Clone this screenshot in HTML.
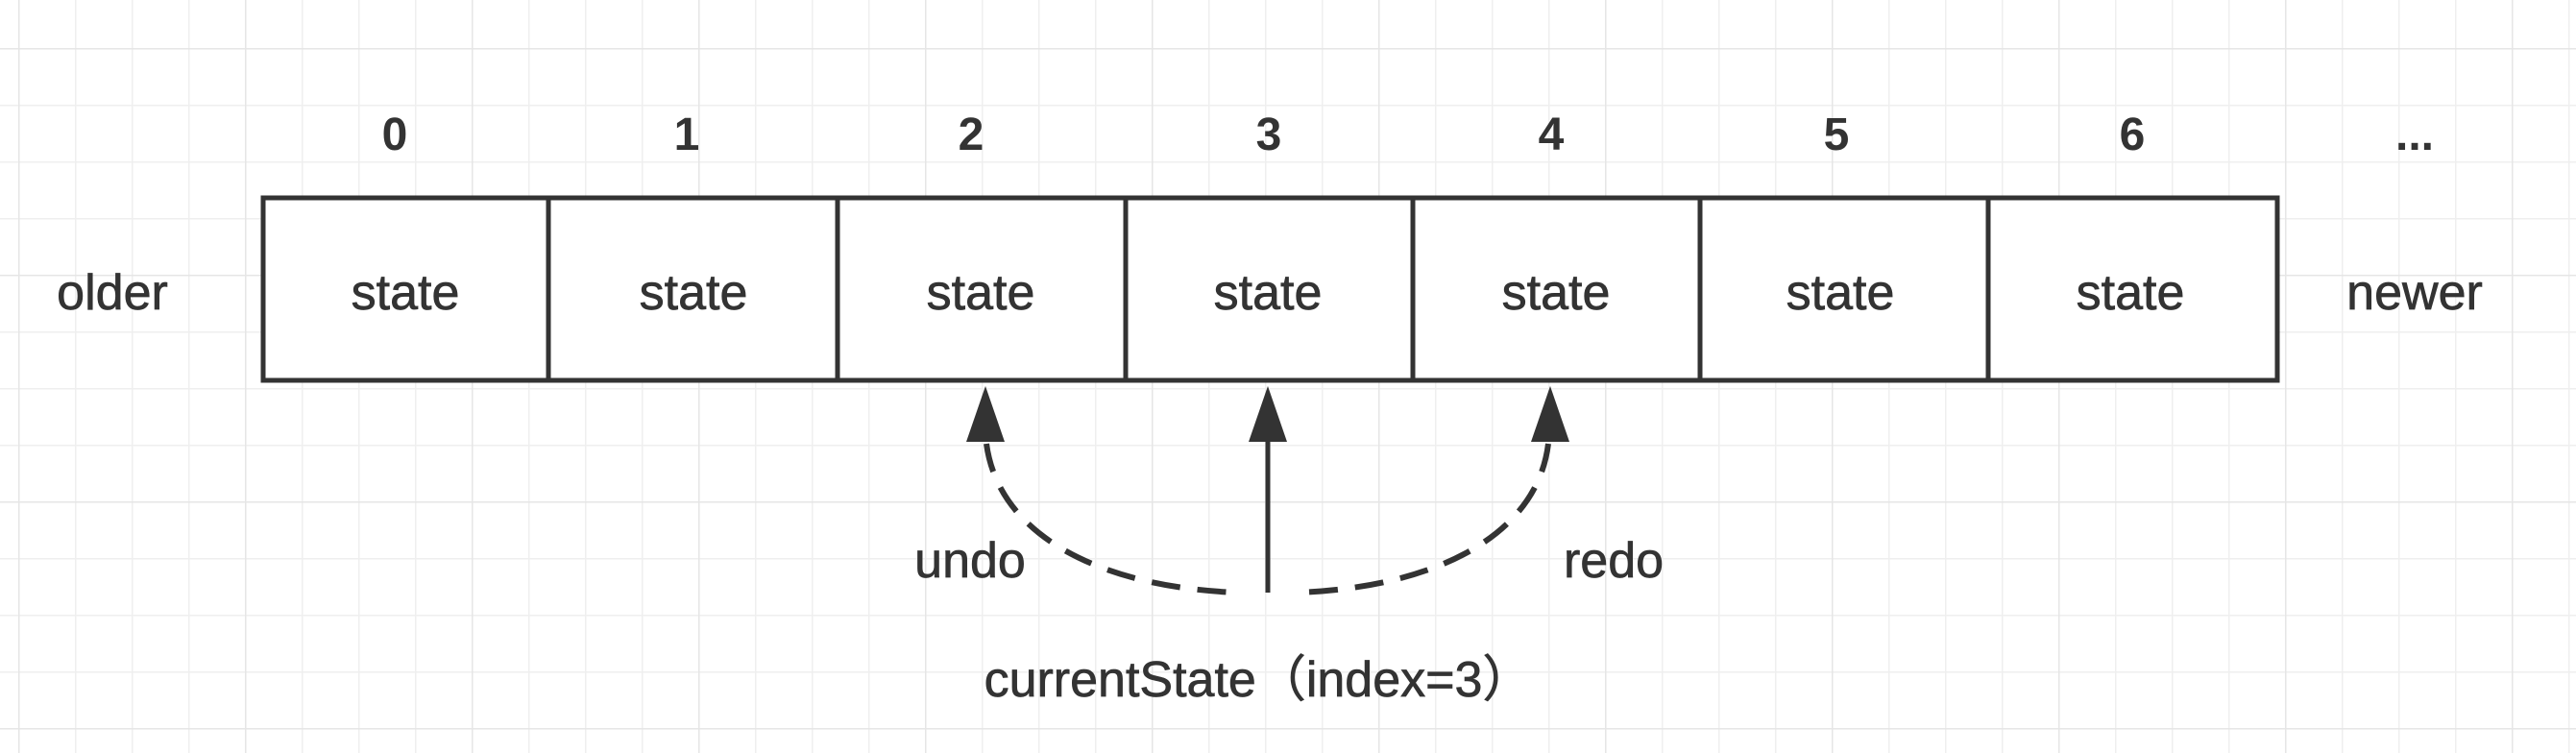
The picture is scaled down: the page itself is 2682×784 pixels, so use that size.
<!DOCTYPE html>
<html><head><meta charset="utf-8"><style>
html,body{margin:0;padding:0;background:#fff;}
svg{display:block;}
text{font-family:"Liberation Sans","Noto Sans CJK SC",sans-serif;fill:#333;stroke:#333;stroke-width:0.7;}
text.d{font-weight:bold;stroke-width:0;}
</style></head><body>
<svg width="2682" height="784" viewBox="0 0 2682 784" xmlns="http://www.w3.org/2000/svg">
<defs>
<pattern id="g" x="19" y="50" width="59" height="59" patternUnits="userSpaceOnUse">
<path d="M0 0V59M0 0H59" stroke="#efefef" stroke-width="3" fill="none"/>
</pattern>
<pattern id="G" x="19" y="50" width="236" height="236" patternUnits="userSpaceOnUse">
<path d="M0 0V236M0 0H236" stroke="#e6e6e6" stroke-width="3" fill="none"/>
</pattern>
</defs>
<rect width="2682" height="784" fill="#fff"/>
<rect width="2682" height="784" fill="url(#g)"/>
<rect width="2682" height="784" fill="url(#G)"/>
<g stroke="#333" stroke-width="5" fill="#fff">
<rect x="274" y="206" width="2097" height="190"/>
<path d="M571 206V396M872 206V396M1172 206V396M1471 206V396M1770 206V396M2070 206V396" fill="none"/>
</g>
<g font-size="52" text-anchor="middle">
<text x="422" y="322">state</text>
<text x="722" y="322">state</text>
<text x="1021" y="322">state</text>
<text x="1320" y="322">state</text>
<text x="1620" y="322">state</text>
<text x="1916" y="322">state</text>
<text x="2218" y="322">state</text>
<text x="117" y="322">older</text>
<text x="2514" y="322">newer</text>
<text x="1010" y="601">undo</text>
<text x="1680" y="601">redo</text>
<text x="1310" y="725">currentState（index=3）</text>
</g>
<g font-size="48" text-anchor="middle">
<text class="d" x="411" y="156">0</text>
<text class="d" x="715" y="156">1</text>
<text class="d" x="1011" y="156">2</text>
<text class="d" x="1321" y="156">3</text>
<text class="d" x="1615" y="156">4</text>
<text class="d" x="1912" y="156">5</text>
<text class="d" x="2220" y="156">6</text>
<text class="d" x="2514" y="156">...</text>
</g>
<g stroke="#333" stroke-width="6" fill="none">
<path d="M1027 462C1040 560 1150 612 1290 617" stroke-dasharray="30 18"/>
<path d="M1612 462C1600 560 1490 612 1350 617" stroke-dasharray="30 18"/>
<path d="M1320 617V455" stroke-width="5"/>
</g>
<g fill="#333">
<polygon points="1026,402 1006,460 1046,460"/>
<polygon points="1320,402 1300,460 1340,460"/>
<polygon points="1614,402 1594,460 1634,460"/>
</g>
</svg>
</body></html>
